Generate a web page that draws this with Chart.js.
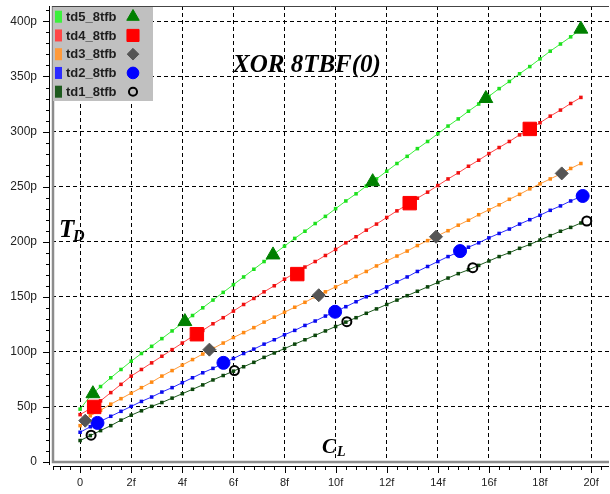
<!DOCTYPE html>
<html>
<head>
<meta charset="utf-8">
<script src="https://cdn.jsdelivr.net/npm/chart.js@4.4.1/dist/chart.umd.min.js"></script>
<style>
  html, body { margin: 0; padding: 0; background: #fff; }
</style>
</head>
<body>
<canvas id="chTd" width="610" height="494"></canvas>
<script>
/* XOR 8TBF(0): delay vs load capacitance */

// load capacitance in fF, one entry per small dot
var capF = [0, 0.4, 0.8, 1.2, 1.6, 2, 2.4, 2.8, 3.2, 3.6, 4, 4.4, 4.8, 5.2, 5.6, 6, 6.4, 6.8, 7.2, 7.6,
  8, 8.4, 8.8, 9.2, 9.6, 10, 10.4, 10.8, 11.2, 11.6, 12, 12.4, 12.8, 13.2, 13.6, 14, 14.4, 14.8, 15.2, 15.6,
  16, 16.4, 16.8, 17.2, 17.6, 18, 18.4, 18.8, 19.2, 19.6];

// delays in ps
var td5 = [48, 60, 68.5, 76.5, 84, 91.5, 98.5, 105, 112, 119, 126, 133, 140, 147, 154, 161, 168, 175, 182, 189,
  196, 203, 209.5, 216.5, 223, 230, 237, 243.5, 250.5, 257, 264, 271, 277.5, 284.5, 291, 298, 305, 311.5, 318.5, 325,
  332, 339, 345.5, 352.5, 359, 366, 373, 379.5, 386, 393];
var td4 = [43, 48.5, 55.5, 63, 70.5, 78, 84, 90, 96, 102, 108, 114, 119.5, 125.5, 131, 137, 143, 148.5, 154.5, 160,
  166, 171.5, 177, 182, 187.5, 193, 199, 204.5, 210.5, 216, 222, 228, 233.5, 239.5, 245, 251, 257, 262.5, 268.5, 274,
  280, 285.5, 291, 297, 302.5, 308, 314, 319.5, 325.5, 331];
var td3 = [33, 42, 47, 52.5, 57.5, 62.5, 67.5, 72.5, 78, 83, 88, 93, 98, 103, 108, 113, 117.5, 122, 127, 131.5,
  136, 140.5, 145, 150, 154.5, 159, 163.5, 168.5, 173, 178, 182.5, 187, 191.5, 196.5, 201, 205.5, 210, 215, 219.5, 224.5,
  229, 233.5, 238.5, 243, 248, 252.5, 257, 261.5, 266.5, 271];
var td2 = [27, 32, 37, 41.5, 46, 50.5, 55, 59, 63.5, 67.5, 72, 76.5, 81, 85, 89.5, 94, 98.5, 102.5, 107, 111,
  115.5, 119.5, 124, 128, 132.5, 136.5, 141, 145.5, 150, 154.5, 159, 163.5, 168, 173, 177.5, 182, 186.5, 190.5, 195, 199,
  203.5, 207.5, 211.5, 216, 220, 224, 228.5, 232.5, 237, 241];
var td1 = [19.5, 24, 28.5, 33, 38, 42.5, 46.5, 50.5, 54, 58, 62, 66, 70, 74.5, 78.5, 82.5, 86.5, 90.5, 95, 99,
  103, 107, 111, 115, 119, 123, 127, 131, 135, 139, 143, 147, 151, 155, 159, 163, 167, 171, 174.5, 178.5,
  182.5, 186.5, 190, 194, 197.5, 201.5, 205.5, 209.5, 213, 217];

// big symbols sitting on each curve
var td5MarkX = [0.5, 4.1, 7.55, 11.45, 15.88, 19.6];
var td5MarkY = [62, 127.5, 188, 254.5, 330, 393];
var td4MarkX = [0.55, 4.57, 8.5, 12.9, 17.6];
var td4MarkY = [50, 116, 170.6, 235, 302.4];
var td3MarkX = [0.2, 5.06, 9.34, 13.93, 18.85];
var td3MarkY = [37.5, 102, 151.4, 204.5, 262];
var td2MarkX = [0.68, 5.61, 9.98, 14.87, 19.67];
var td2MarkY = [35.5, 90, 136.4, 191.5, 241.5];
var td1MarkX = [0.43, 6.04, 10.44, 15.37, 19.83];
var td1MarkY = [24.3, 83, 127.4, 176.4, 218.8];

// tick labels
var xTickVals = [0, 2, 4, 6, 8, 10, 12, 14, 16, 18, 20];
var xTickText = ['0', '2f', '4f', '6f', '8f', '10f', '12f', '14f', '16f', '18f', '20f'];
var yTickVals = [0, 50, 100, 150, 200, 250, 300, 350, 400];
var yTickText = ['0', '50p', '100p', '150p', '200p', '250p', '300p', '350p', '400p'];

var seriesNames = ['td5_8tfb', 'td4_8tfb', 'td3_8tfb', 'td2_8tfb', 'td1_8tfb'];
var lineColors = ['#3cf03c', '#ff4646', '#ff9a3a', '#2a2aff', '#1d5a1d'];
var dotColors = ['#1ee01e', '#f01010', '#ff8a14', '#0a0aee', '#0b460b'];

function pts(xs, ys) {
  return xs.map(function (x, i) { return { x: x, y: ys[i] }; });
}

var curves = [td5, td4, td3, td2, td1];
var marks = [
  { xs: td5MarkX, ys: td5MarkY, style: 'triangle', r: 8, fill: '#008000', stroke: '#008000', bw: 1 },
  { xs: td4MarkX, ys: td4MarkY, style: 'rect', r: 9.5, fill: '#ff0000', stroke: '#ff0000', bw: 1 },
  { xs: td3MarkX, ys: td3MarkY, style: 'rectRot', r: 6.5, fill: '#555555', stroke: '#555555', bw: 1 },
  { xs: td2MarkX, ys: td2MarkY, style: 'circle', r: 6.5, fill: '#0000ff', stroke: '#0000ff', bw: 1 },
  { xs: td1MarkX, ys: td1MarkY, style: 'circle', r: 4.5, fill: 'rgba(0,0,0,0)', stroke: '#000000', bw: 2 }
];

var datasets = [];
curves.forEach(function (vals, i) {
  datasets.push({
    label: seriesNames[i],
    data: pts(capF, vals),
    showLine: true,
    borderColor: lineColors[i],
    borderWidth: 1,
    pointStyle: 'rect',
    pointRadius: 2.5,
    pointBackgroundColor: dotColors[i],
    pointBorderWidth: 0,
    order: 2
  });
});
marks.forEach(function (m, i) {
  datasets.push({
    label: seriesNames[i] + ' mark',
    data: pts(m.xs, m.ys),
    showLine: false,
    pointStyle: m.style,
    pointRadius: m.r,
    pointBackgroundColor: m.fill,
    pointBorderColor: m.stroke,
    pointBorderWidth: m.bw,
    order: 1
  });
});

var decor = {
  id: 'decor',
  beforeDraw: function (chart) {
    var ctx = chart.ctx;
    ctx.save();
    ctx.fillStyle = '#ffffff';
    ctx.fillRect(0, 0, chart.width, chart.height);
    ctx.restore();
  },
  afterDraw: function (chart) {
    var ctx = chart.ctx, a = chart.chartArea;
    var sx = chart.scales.x, sy = chart.scales.y;
    ctx.save();

    // frame
    ctx.strokeStyle = '#8c8c8c';
    ctx.lineWidth = 2.5;
    ctx.beginPath();
    ctx.moveTo(a.left + 1, a.top);
    ctx.lineTo(a.left + 1, a.bottom);
    ctx.lineTo(a.right, a.bottom);
    ctx.stroke();
    ctx.strokeStyle = '#444';
    ctx.lineWidth = 1;
    ctx.beginPath();
    ctx.moveTo(a.left, a.top + 0.5);
    ctx.lineTo(a.right, a.top + 0.5);
    ctx.stroke();

    // y ruler
    ctx.strokeStyle = '#000';
    var rx = a.left - 2.5;
    ctx.beginPath();
    ctx.moveTo(rx, a.top);
    ctx.lineTo(rx, a.bottom + 3);
    for (var v = 0; v <= sy.max; v += 10) {
      var py = Math.round(sy.getPixelForValue(v)) + 0.5;
      var len = (v % 50 === 0) ? 6.5 : 3.5;
      ctx.moveTo(rx - len, py);
      ctx.lineTo(rx, py);
    }
    ctx.stroke();

    // x ruler
    var ry = a.bottom + 4.5;
    ctx.beginPath();
    ctx.moveTo(a.left + 1, ry);
    ctx.lineTo(a.right, ry);
    ctx.moveTo(a.left + 1.5, ry);
    ctx.lineTo(a.left + 1.5, ry + 3.5);
    for (var k = Math.ceil(sx.min / 0.4); k * 0.4 <= sx.max; k++) {
      var px = Math.round(sx.getPixelForValue(k * 0.4)) + 0.5;
      var tl = (k % 5 === 0) ? 6.5 : 3.5;
      ctx.moveTo(px, ry);
      ctx.lineTo(px, ry + tl);
    }
    ctx.stroke();

    // legend box
    var lx = 53, ly = 7, rowH = 18.75;
    ctx.fillStyle = '#c0c0c0';
    ctx.fillRect(lx, ly, 100, 94);
    ctx.font = 'bold 13px "Liberation Sans", Arial, sans-serif';
    ctx.textBaseline = 'middle';
    for (var i = 0; i < 5; i++) {
      var cy = ly + 9.7 + i * rowH;
      ctx.fillStyle = lineColors[i];
      ctx.fillRect(lx + 2, cy - 6, 7, 12);
      ctx.fillStyle = '#1e1e1e';
      ctx.fillText(seriesNames[i], lx + 13, cy + 0.5);
      var m = marks[i];
      ctx.fillStyle = m.fill;
      ctx.strokeStyle = m.stroke;
      ctx.lineWidth = m.bw;
      Chart.helpers.drawPoint(ctx, {
        pointStyle: m.style, rotation: 0, radius: m.r * 0.9, borderWidth: m.bw
      }, lx + 80, cy);
    }

    // annotations
    ctx.fillStyle = '#000';
    ctx.textBaseline = 'alphabetic';
    ctx.font = 'bold italic 25px "Liberation Serif", "Times New Roman", serif';
    ctx.fillText('XOR 8TBF(0)', 233, 72);
    ctx.fillText('T', 59, 237);
    ctx.font = 'bold italic 21px "Liberation Serif", "Times New Roman", serif';
    ctx.fillText('C', 322, 453);
    ctx.font = 'bold italic 16px "Liberation Serif", "Times New Roman", serif';
    ctx.fillText('D', 73, 241);
    ctx.font = 'bold italic 14px "Liberation Serif", "Times New Roman", serif';
    ctx.fillText('L', 337, 456);

    ctx.restore();
  }
};

new Chart(document.getElementById('chTd'), {
  type: 'scatter',
  data: { datasets: datasets },
  plugins: [decor],
  options: {
    responsive: false,
    animation: false,
    devicePixelRatio: 1,
    layout: { autoPadding: false, padding: { top: 6, right: 1, left: 0, bottom: 0 } },
    plugins: { legend: { display: false }, tooltip: { enabled: false } },
    scales: {
      x: {
        type: 'linear',
        min: -1.1,
        max: 20.7,
        afterFit: function (s) { s.height = 32; s.paddingLeft = 0; s.paddingRight = 0; },
        afterBuildTicks: function (s) { s.ticks = xTickVals.map(function (v) { return { value: v }; }); },
        grid: { color: '#000', lineWidth: 1, drawTicks: false },
        border: { display: false, dash: [4, 3] },
        ticks: {
          padding: 14,
          maxRotation: 0,
          autoSkip: false,
          color: '#222',
          font: { family: '"Liberation Sans Narrow", "Liberation Sans", Arial, sans-serif', size: 11 },
          callback: function (v) { return xTickText[xTickVals.indexOf(v)]; }
        }
      },
      y: {
        min: 0,
        max: 414,
        afterFit: function (s) { s.width = 52; s.paddingTop = 0; s.paddingBottom = 0; },
        afterBuildTicks: function (s) { s.ticks = yTickVals.map(function (v) { return { value: v }; }); },
        grid: { color: '#000', lineWidth: 1, drawTicks: false },
        border: { display: false, dash: [4, 3] },
        ticks: {
          padding: 15,
          color: '#222',
          font: { family: '"Liberation Sans", Arial, sans-serif', size: 12 },
          callback: function (v) { return yTickText[yTickVals.indexOf(v)]; }
        }
      }
    }
  }
});
</script>
</body>
</html>
